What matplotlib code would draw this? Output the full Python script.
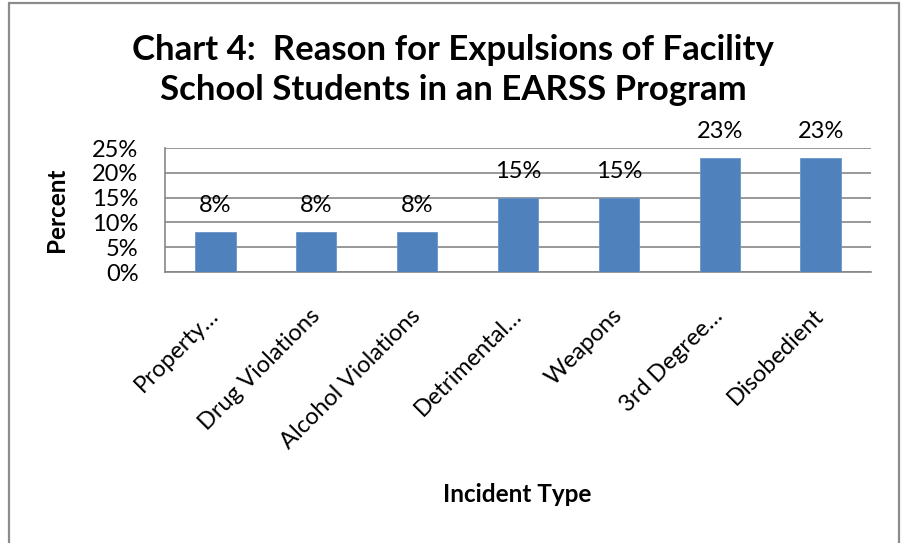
import matplotlib.pyplot as plt
from matplotlib.patches import Rectangle

plt.rcParams['font.family'] = ['Lato', 'DejaVu Sans']

# Expulsion reasons and their share of students
incident_types = ['Property…', 'Drug Violations', 'Alcohol Violations', 'Detrimental…',
                  'Weapons', '3rd Degree…', 'Disobedient']
percent = [8, 8, 8, 15, 15, 23, 23]
y_ticks = [0, 5, 10, 15, 20, 25]

fig = plt.figure(figsize=(9.01, 5.43), dpi=100)
ax = fig.add_axes([165 / 901, 1 - 272 / 543, 706 / 901, 124 / 543])

x = list(range(len(incident_types)))
ax.bar(x, percent, width=0.4, color='#4f81bd', edgecolor='#6a96c9', linewidth=0.6, zorder=3)
for xi, v in zip(x, percent):
    ax.annotate(f'{v}%', (xi, v), xytext=(0, 19), textcoords='offset points',
                ha='center', va='center', fontsize=17, color='black')

ax.set_xlim(-0.5, len(incident_types) - 0.5)
ax.set_ylim(0, 25)
ax.set_yticks(y_ticks)
ax.set_yticklabels([f'{t}%' for t in y_ticks], fontsize=17)
ax.tick_params(axis='y', length=0, pad=19)
ax.set_xticks(x)
ax.set_xticklabels(incident_types, rotation=45, ha='right', va='center',
                   rotation_mode='anchor', fontsize=17)
ax.tick_params(axis='x', length=0, pad=29)
ax.grid(axis='y', color='#868686', linewidth=1.2, zorder=0)
for side in ['top', 'right']:
    ax.spines[side].set_visible(False)
for side in ['left', 'bottom']:
    ax.spines[side].set_color('#868686')
    ax.spines[side].set_linewidth(1.2)

fig.text(453 / 901, 1 - 70 / 543, 'Chart 4:  Reason for Expulsions of Facility\nSchool Students in an EARSS Program',
         ha='center', va='center', fontsize=25, fontweight='bold', linespacing=1.32)
fig.text(57 / 901, 1 - 210 / 543, 'Percent', rotation=90, ha='center', va='center',
         fontsize=17.5, fontweight='bold')
fig.text(517 / 901, 1 - 495 / 543, 'Incident Type', ha='center', va='center',
         fontsize=17.5, fontweight='bold')

# outer chart border, open at the bottom edge
fig.patches.append(Rectangle((8.5 / 901, -0.05), 890 / 901, 1.05 - 2.5 / 543,
                             transform=fig.transFigure, fill=False,
                             edgecolor='#8c8c8c', linewidth=1.6))

fig.savefig('out.png', dpi=100, facecolor='white')
